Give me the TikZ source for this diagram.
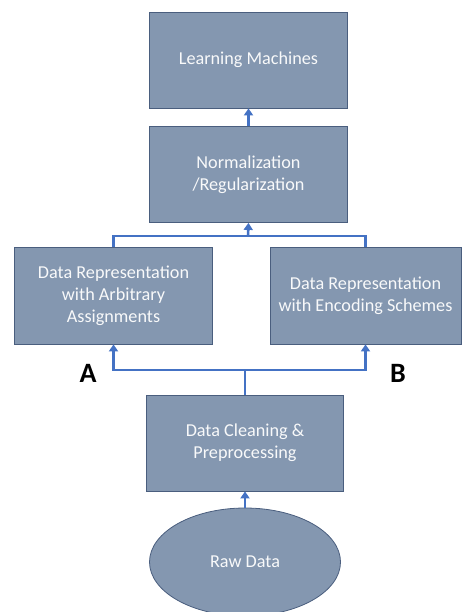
\documentclass[tikz,border=0pt]{standalone}
\usepackage{fontspec}
\setmainfont{Carlito}
\usetikzlibrary{arrows.meta,shapes.geometric}
\definecolor{boxfill}{HTML}{8497B0}
\definecolor{boxline}{HTML}{4A5E7E}
\definecolor{linkblue}{HTML}{4472C4}
\tikzset{
  block/.style={draw=boxline, line width=0.8pt, fill=boxfill, text=white!94!boxfill,
    align=center, font=\fontsize{18.2}{22}\selectfont, inner sep=0pt},
  link/.style={draw=linkblue, line width=2.6pt},
  arrowlink/.style={link, -{Triangle[length=7pt,width=9pt]}},
  tag/.style={font=\fontsize{28}{30}\selectfont\bfseries, text=black}
}
\begin{document}
\begin{tikzpicture}[x=1pt,y=-1pt]
\useasboundingbox (0,0) rectangle (462,612);
\node[block, minimum width=198pt, minimum height=96pt] (learn) at (248.5,60) {Learning Machines};
\node[block, minimum width=198pt, minimum height=96pt] (norm) at (248.5,174.5) {Normalization\\/Regularization};
\node[block, minimum width=198pt, minimum height=97pt] (arb) at (113.5,295.5) {Data Representation\\with Arbitrary\\Assignments};
\node[block, minimum width=191pt, minimum height=97pt] (enc) at (365.5,295.5) {Data Representation\\with Encoding Schemes};
\node[block, minimum width=197pt, minimum height=96pt] (clean) at (245,443) {Data Cleaning \&\\Preprocessing};
\node[block, ellipse, minimum width=191pt, minimum height=108pt] (raw) at (245,562) {Raw Data};
\coordinate (top) at (248,236);
\coordinate (split) at (245,370);
% upward links
\draw[arrowlink] (norm.north) -- (learn.south);
\draw[link] (arb.north) |- (top) -| (enc.north);
\draw[arrowlink] (top) -- (norm.south);
\draw[link] (clean.north) -- (split);
\draw[arrowlink] (split) -| (arb.south);
\draw[arrowlink] (split) -| (enc.south);
\draw[arrowlink] (raw.north) -- (clean.south);
% branch labels
\node[tag] (la) at (88,373) {A};
\node[tag] (lb) at (398,373) {B};
\end{tikzpicture}
\end{document}
